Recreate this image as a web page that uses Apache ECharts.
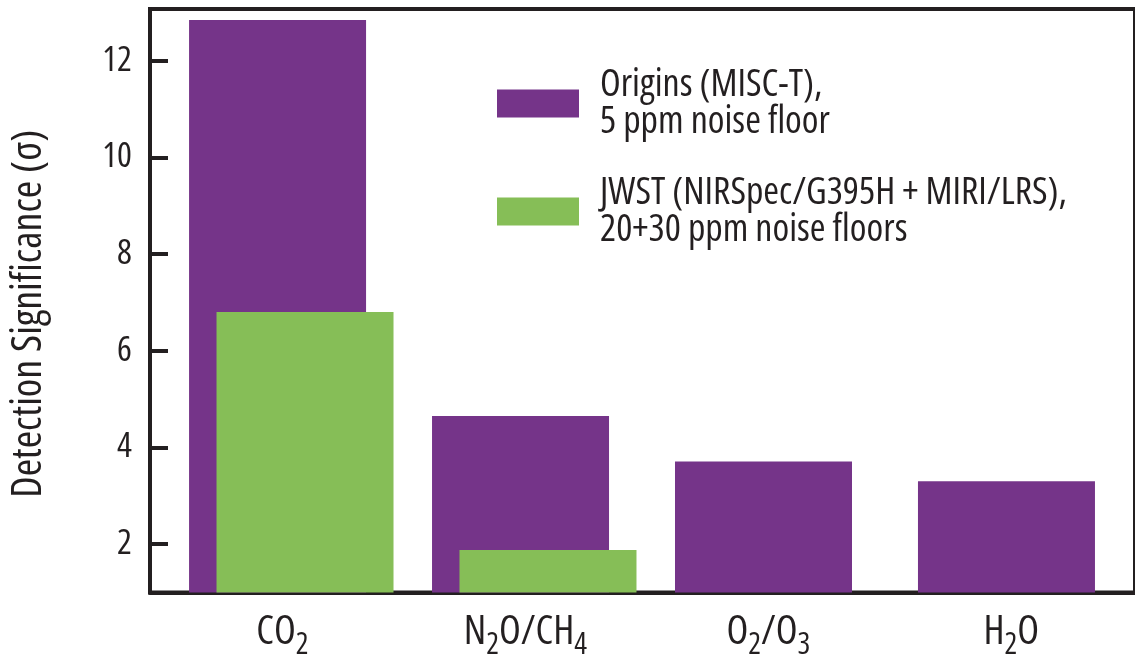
<!DOCTYPE html>
<html><head><meta charset="utf-8">
<script src="https://cdn.jsdelivr.net/npm/echarts@6/dist/echarts.min.js"></script>
<style>html,body{margin:0;padding:0;background:#fff}#c{width:1135px;height:660px}</style>
</head><body><div id="c"></div>
<script>
// ---- data ----
const categories = ['CO{sub|2}', 'N{sub|2}O/CH{sub|4}', 'O{sub|2}/O{sub|3}', 'H{sub|2}O'];
const originsValues = [12.84, 4.65, 3.71, 3.30];
const jwstValues = [6.80, 1.88, null, null];
const yTicks = [2, 4, 6, 8, 10, 12];
const seriesNames = ['Origins (MISC-T),\n5 ppm noise floor', 'JWST (NIRSpec/G395H + MIRI/LRS),\n20+30 ppm noise floors'];
const yAxisName = 'Detection Significance (σ)';

// ---- style ----
const INK = '#231f20';
const FONT = '"Open Sans", sans-serif';
const STRETCH = 'condensed';
const PURPLE = '#753489';
const GREEN = '#86be57';
const JWST_SHIFT = 0.113;

const chart = echarts.init(document.getElementById('c'), null, {renderer: 'canvas'});
const originsData = originsValues.map((v, i) => [i, v]);
const jwstData = jwstValues.map((v, i) => (v == null ? null : [i + JWST_SHIFT, v])).filter(Boolean);

chart.setOption({
  animation: false,
  backgroundColor: '#ffffff',
  grid: {left: 148, right: -5, top: 9, bottom: 63, show: true, borderColor: INK, borderWidth: 4, backgroundColor: 'transparent'},
  legend: {
    orient: 'vertical', left: 497, top: 66, itemGap: 33, padding: 0,
    icon: 'rect', itemWidth: 82, itemHeight: 28,
    data: seriesNames,
    textStyle: {fontFamily: FONT, fontWeight: STRETCH, fontSize: 38, lineHeight: 37, color: INK, padding: [0, 0, 0, 16]}
  },
  xAxis: {
    type: 'value', min: -0.525, max: 3.529,
    axisLine: {show: true, onZero: false, lineStyle: {color: INK, width: 4}},
    axisTick: {show: false},
    splitLine: {show: false},
    axisLabel: {
      customValues: categories.map((c, i) => i + 0.02),
      formatter: v => categories[Math.round(v)],
      margin: 15, color: INK, fontFamily: FONT, fontWeight: STRETCH, fontSize: 40, lineHeight: 50,
      rich: {sub: {fontFamily: FONT, fontWeight: STRETCH, fontSize: 30, lineHeight: 25, padding: [25, 0, 0, 0], color: INK}}
    }
  },
  yAxis: [{
    type: 'value', min: 1, max: 13.07, position: 'left',
    name: yAxisName, nameLocation: 'middle', nameGap: 100,
    nameTextStyle: {fontFamily: FONT, fontWeight: STRETCH, fontSize: 42, color: INK, padding: [0, 26, 0, 0]},
    axisLine: {show: true, onZero: false, lineStyle: {color: INK, width: 4}},
    axisTick: {show: true, inside: true, length: 18, lineStyle: {color: INK, width: 4}, customValues: yTicks},
    axisLabel: {customValues: yTicks, margin: 18, color: INK, fontFamily: FONT, fontWeight: STRETCH, fontSize: 35},
    splitLine: {show: false}
  }, {
    type: 'value', min: 1, max: 13.07, position: 'right',
    axisLine: {show: false},
    axisTick: {show: true, inside: true, length: 18, lineStyle: {color: INK, width: 4}, customValues: yTicks},
    axisLabel: {show: false},
    splitLine: {show: false}
  }],
  series: [{
    name: seriesNames[0], type: 'bar', data: originsData, barWidth: 177, barGap: '-100%',
    itemStyle: {color: PURPLE}, clip: true
  }, {
    name: seriesNames[1], type: 'bar', data: jwstData, barWidth: 177, barGap: '-100%',
    itemStyle: {color: GREEN}, clip: true
  }]
});
</script>
</body></html>
